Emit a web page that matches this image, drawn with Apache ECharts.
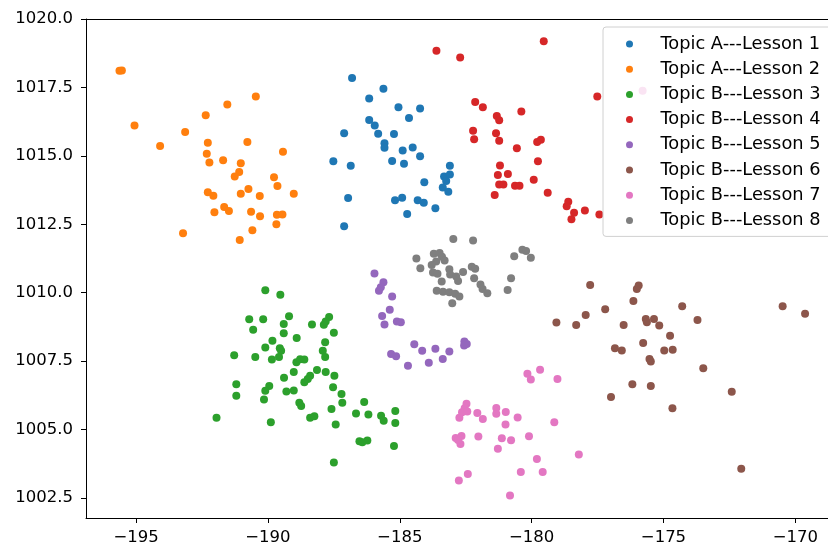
<!DOCTYPE html>
<html>
<head>
<meta charset="utf-8">
<script src="https://cdn.jsdelivr.net/npm/echarts@6/dist/echarts.min.js"></script>
<style>
html,body{margin:0;padding:0;background:#fff;}
#chart{width:828px;height:546px;}
</style>
</head>
<body>
<div id="chart"></div>
<script>
const seriesNames = ["Topic A---Lesson 1","Topic A---Lesson 2","Topic B---Lesson 3","Topic B---Lesson 4","Topic B---Lesson 5","Topic B---Lesson 6","Topic B---Lesson 7","Topic B---Lesson 8"];
const xTicks = [-195,-190,-185,-180,-175,-170];
const yTicks = [1002.5,1005.0,1007.5,1010.0,1012.5,1015.0,1017.5,1020.0];

const lesson1 = [[-186.81,1017.84],[-185.62,1017.45],[-186.16,1017.10],[-185.05,1016.78],[-184.23,1016.73],[-184.65,1016.38],[-186.16,1016.31],[-185.95,1016.11],[-185.82,1015.81],[-187.11,1015.83],[-185.22,1015.80],[-185.58,1015.46],[-185.58,1015.30],[-184.89,1015.20],[-184.51,1015.31],[-184.23,1014.99],[-187.52,1014.80],[-186.86,1014.64],[-185.29,1014.81],[-184.84,1014.71],[-183.10,1014.64],[-183.32,1014.25],[-183.10,1014.32],[-183.24,1014.08],[-184.07,1014.04],[-183.37,1013.84],[-183.16,1013.69],[-186.96,1013.46],[-185.18,1013.38],[-184.91,1013.47],[-184.32,1013.38],[-184.09,1013.29],[-183.65,1013.09],[-184.72,1012.88],[-187.11,1012.43]];
const lesson2 = [[-195.63,1018.11],[-195.54,1018.12],[-190.46,1017.17],[-191.54,1016.88],[-192.36,1016.48],[-195.06,1016.11],[-193.14,1015.87],[-194.09,1015.36],[-192.28,1015.48],[-190.78,1015.51],[-189.43,1015.15],[-192.32,1015.08],[-192.22,1014.76],[-191.70,1014.84],[-191.03,1014.73],[-191.09,1014.41],[-191.26,1014.25],[-189.77,1014.22],[-189.64,1013.90],[-192.28,1013.67],[-192.07,1013.54],[-191.03,1013.62],[-190.74,1013.79],[-190.31,1013.53],[-189.02,1013.62],[-192.03,1012.94],[-191.66,1013.13],[-191.48,1012.99],[-190.64,1012.96],[-190.30,1012.79],[-189.66,1012.85],[-189.45,1012.86],[-189.68,1012.50],[-190.59,1012.28],[-193.22,1012.17],[-191.07,1011.93]];
const lesson3 = [[-190.10,1010.09],[-189.53,1009.93],[-190.71,1009.03],[-190.18,1009.03],[-189.20,1009.14],[-189.40,1008.86],[-190.56,1008.65],[-189.40,1008.52],[-188.33,1008.84],[-187.88,1008.83],[-187.68,1009.11],[-187.81,1008.95],[-187.50,1008.54],[-188.91,1008.35],[-189.83,1008.25],[-190.10,1008.00],[-189.55,1007.97],[-189.50,1007.88],[-187.83,1008.19],[-187.92,1007.88],[-187.83,1007.65],[-191.28,1007.72],[-190.48,1007.65],[-189.85,1007.56],[-189.58,1007.65],[-188.92,1007.46],[-188.78,1007.57],[-188.62,1007.56],[-189.02,1007.10],[-189.39,1006.89],[-188.14,1007.18],[-187.81,1007.10],[-187.48,1006.97],[-188.40,1006.97],[-188.49,1006.85],[-188.62,1006.73],[-191.20,1006.66],[-189.95,1006.59],[-190.10,1006.42],[-189.30,1006.39],[-189.02,1006.43],[-187.53,1006.55],[-187.21,1006.30],[-191.20,1006.24],[-190.15,1006.10],[-188.81,1005.98],[-188.74,1005.86],[-187.18,1005.98],[-186.35,1006.01],[-187.59,1005.75],[-186.66,1005.59],[-186.19,1005.55],[-185.71,1005.51],[-185.61,1005.32],[-185.17,1005.68],[-185.17,1005.24],[-188.40,1005.43],[-188.24,1005.49],[-187.43,1005.19],[-191.95,1005.43],[-189.89,1005.27],[-186.53,1004.57],[-186.42,1004.54],[-186.23,1004.60],[-185.22,1004.40],[-187.50,1003.80]];
const lesson4 = [[-183.61,1018.84],[-182.71,1018.59],[-179.54,1019.19],[-177.51,1017.17],[-182.14,1016.97],[-181.85,1016.78],[-181.32,1016.46],[-181.23,1016.30],[-180.39,1016.62],[-182.22,1015.92],[-182.18,1015.61],[-181.35,1015.83],[-181.23,1015.55],[-180.56,1015.28],[-179.79,1015.51],[-179.65,1015.59],[-179.76,1014.80],[-181.20,1014.65],[-181.28,1014.30],[-180.90,1014.34],[-181.23,1013.95],[-181.07,1013.95],[-180.63,1013.91],[-180.46,1013.91],[-179.92,1014.13],[-181.40,1013.57],[-179.39,1013.65],[-178.61,1013.32],[-178.67,1013.16],[-178.39,1012.92],[-178.49,1012.68],[-177.98,1013.00],[-177.43,1012.86]];
const lesson5 = [[-185.96,1010.70],[-185.62,1010.38],[-185.72,1010.20],[-185.79,1010.07],[-185.29,1009.86],[-185.38,1009.38],[-185.67,1009.15],[-185.58,1008.84],[-185.11,1008.95],[-184.96,1008.92],[-185.33,1007.76],[-185.14,1007.68],[-184.69,1007.33],[-184.45,1008.12],[-184.15,1007.88],[-183.65,1007.95],[-183.90,1007.44],[-183.37,1007.58],[-183.12,1007.85],[-182.55,1008.22],[-182.46,1008.13],[-182.56,1008.07]];
const lesson6 = [[-177.78,1010.28],[-176.01,1010.14],[-175.94,1010.26],[-176.14,1009.70],[-174.29,1009.51],[-170.48,1009.51],[-169.63,1009.23],[-177.21,1009.40],[-177.95,1009.19],[-179.06,1008.91],[-178.31,1008.82],[-176.51,1008.82],[-175.67,1009.04],[-175.63,1008.92],[-175.36,1009.04],[-175.16,1008.80],[-173.71,1009.00],[-174.75,1008.43],[-175.77,1008.16],[-176.84,1007.97],[-176.58,1007.89],[-174.97,1007.89],[-174.65,1007.92],[-175.53,1007.58],[-175.48,1007.49],[-173.49,1007.24],[-176.18,1006.66],[-175.48,1006.59],[-176.99,1006.19],[-172.41,1006.38],[-174.66,1005.78],[-172.05,1003.57]];
const lesson7 = [[-180.16,1007.04],[-180.03,1006.83],[-179.68,1007.19],[-179.02,1006.85],[-182.47,1005.94],[-182.54,1005.78],[-182.64,1005.63],[-182.74,1005.43],[-182.44,1005.66],[-182.06,1005.61],[-181.85,1005.39],[-181.34,1005.79],[-181.34,1005.58],[-180.98,1005.64],[-180.99,1005.19],[-180.53,1005.44],[-179.14,1005.27],[-182.88,1004.69],[-182.66,1004.77],[-182.70,1004.47],[-182.79,1004.62],[-182.02,1004.75],[-181.13,1004.68],[-180.78,1004.61],[-180.10,1004.76],[-181.28,1004.30],[-179.80,1003.93],[-178.21,1004.09],[-180.41,1003.45],[-179.58,1003.45],[-182.42,1003.38],[-182.76,1003.14],[-180.82,1002.59],[-175.79,1017.38]];
const lesson8 = [[-182.97,1011.96],[-182.22,1011.91],[-184.37,1011.25],[-184.22,1010.89],[-183.71,1011.42],[-183.49,1011.45],[-183.40,1011.31],[-183.62,1011.14],[-183.30,1011.18],[-183.79,1011.01],[-183.74,1010.74],[-183.57,1010.69],[-183.41,1010.41],[-183.12,1010.86],[-183.09,1010.67],[-182.86,1010.59],[-182.79,1010.43],[-182.60,1010.76],[-182.27,1010.95],[-182.14,1010.88],[-182.18,1010.53],[-181.94,1010.30],[-181.86,1010.14],[-181.68,1009.98],[-183.60,1010.07],[-183.36,1010.04],[-183.12,1010.02],[-182.90,1009.96],[-182.74,1009.86],[-183.01,1009.62],[-180.66,1011.33],[-180.35,1011.57],[-180.21,1011.52],[-180.03,1011.28],[-180.78,1010.53],[-180.91,1010.10]];

const allData = [lesson1,lesson2,lesson3,lesson4,lesson5,lesson6,lesson7,lesson8];
const colors = ["#1f77b4","#ff7f0e","#2ca02c","#d62728","#9467bd","#8c564b","#e377c2","#7f7f7f"];

const FONT = "DejaVu Sans";
const chart = echarts.init(document.getElementById('chart'), null, {renderer:'canvas'});
const axisLineStyle = {color:'#000', width:1};
chart.setOption({
  animation:false,
  backgroundColor:'#fff',
  color: colors,
  grid:{left:86, top:19, right:0, bottom:26.5, containLabel:false},
  xAxis:[{
    type:'value', min:-196.9, max:-168.76, position:'bottom',
    splitLine:{show:false},
    axisLine:{show:true, onZero:false, lineStyle:axisLineStyle},
    axisTick:{show:true, length:5, lineStyle:axisLineStyle, customValues:xTicks},
    axisLabel:{show:true, margin:11, fontFamily:FONT, fontSize:16.5, color:'#000', customValues:xTicks,
      formatter:v=>String(v).replace('-','\u2212')}
  },{
    type:'value', min:-196.9, max:-168.76, position:'top',
    splitLine:{show:false},
    axisLine:{show:true, onZero:false, lineStyle:axisLineStyle},
    axisTick:{show:false}, axisLabel:{show:false}
  }],
  yAxis:{
    type:'value', min:1001.77, max:1020.0,
    splitLine:{show:false},
    axisLine:{show:true, onZero:false, lineStyle:axisLineStyle},
    axisTick:{show:true, length:5, lineStyle:axisLineStyle, customValues:yTicks},
    axisLabel:{show:true, margin:13, fontFamily:FONT, fontSize:16.5, color:'#000', customValues:yTicks,
      formatter:v=>Number(v).toFixed(1)}
  },
  legend:{
    orient:'vertical', left:603, top:27,
    padding:[8,30,7,23],
    backgroundColor:'rgba(255,255,255,0.8)',
    borderColor:'#d0d0d0', borderWidth:1, borderRadius:3,
    icon:'circle', itemWidth:52, itemHeight:7, itemGap:7.2,
    textStyle:{fontFamily:FONT, fontSize:17.8, color:'#000', lineHeight:18, padding:[0,0,0,0]},
    data: seriesNames
  },
  series: allData.map((d,i)=>({
    name: seriesNames[i], type:'scatter', xAxisIndex:0, yAxisIndex:0,
    data:d, symbol:'circle', symbolSize:8,
    itemStyle:{color:colors[i], opacity:1},
    emphasis:{disabled:true}
  }))
});
</script>
</body>
</html>
